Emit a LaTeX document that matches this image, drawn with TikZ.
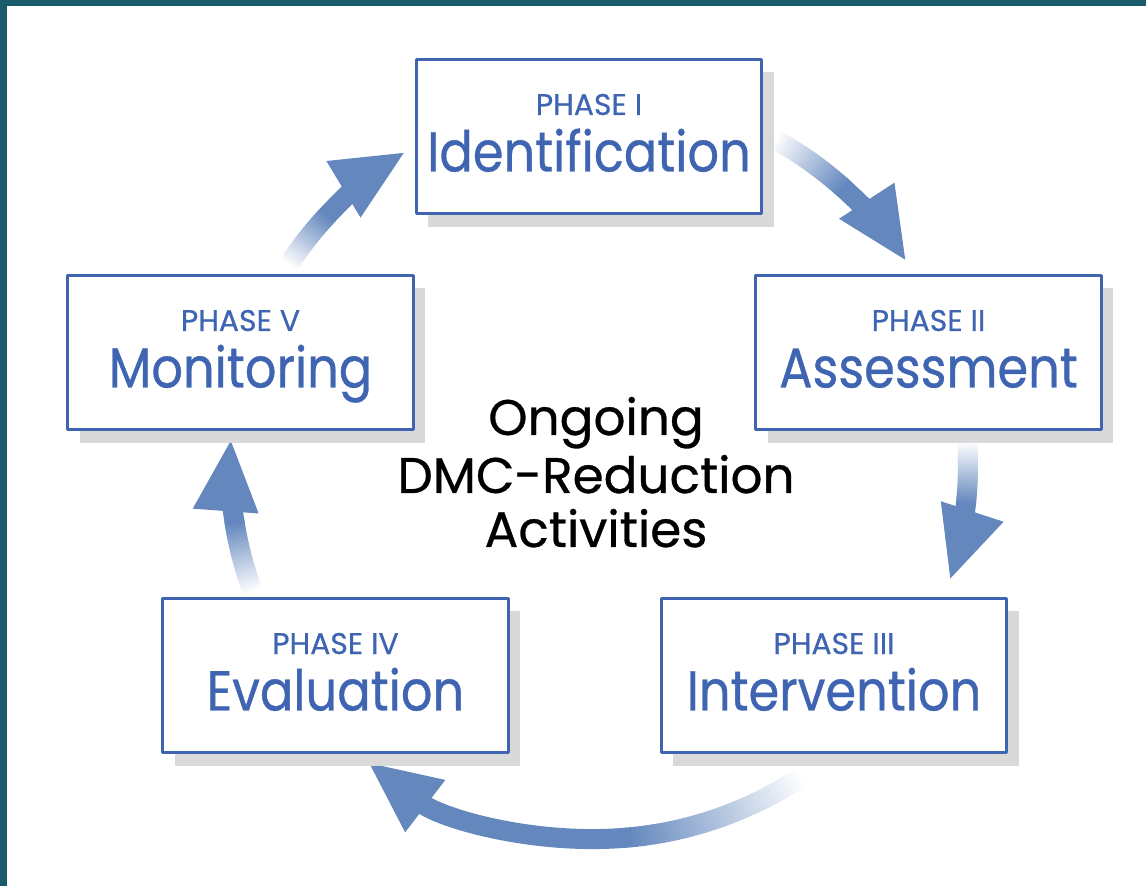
\documentclass[tikz,border=0pt]{standalone}
\usepackage{fontspec}
\setmainfont{Poppins}[FakeBold=0.6]
\newfontfamily\namefont[FakeStretch=0.88, FakeBold=0.6]{Poppins}
\usetikzlibrary{arrows.meta}
\definecolor{framecol}{RGB}{26,91,108}
\definecolor{boxblue}{RGB}{62,100,178}
\definecolor{arrowblue}{RGB}{100,136,190}
\definecolor{shadowgray}{RGB}{217,217,217}
\tikzset{
  phasebox/.style={draw=boxblue, line width=0.06cm, fill=white, minimum width=6.92cm, minimum height=3.1cm, inner sep=0pt},
  shadowbox/.style={fill=shadowgray, minimum width=6.92cm, minimum height=3.1cm, inner sep=0pt, xshift=0.24cm, yshift=-0.26cm},
  phasenum/.style={text=boxblue, font=\fontsize{17}{20}\selectfont, anchor=base},
  phasename/.style={text=boxblue, font=\namefont\fontsize{32}{36}\selectfont, anchor=base},
  centertext/.style={font=\fontsize{28.5}{32}\selectfont, anchor=base},
  shaft/.style={line width=0.4cm},
  bigtip/.style={-{Triangle[length=1.46cm, width=1.2cm]}}
}
\begin{document}
\begin{tikzpicture}[x=0.02cm, y=0.02cm, line join=round]
		%%%%%%%%%%%%%%%%%%%%%%%%%%%%%%%%%
		\coordinate (P1) at (589,749.5);
		\coordinate (P2) at (928.5,533.5);
		\coordinate (P3) at (834,210.5);
		\coordinate (P4) at (335.5,210.5);
		\coordinate (P5) at (240.5,533.5);
		\coordinate (O) at (595,421);
		\coordinate (T) at (596,451);
		%%%%%%%%%%%%%%%%%%%%%%%%%%%%%%%%%
		\useasboundingbox (0,0) rectangle (1146,886);
		\fill[white] (0,0) rectangle (1146,886);
		\fill[framecol] (0,0) rectangle (7,886);
		\fill[framecol] (0,880) rectangle (1146,886);
		%%%%%%%%%%%%%%%%%%%%%%%%%%%%%%%%%
		\foreach \s/\m/\e/\r in {146.7/137/121.1/366, 60.8/48/33.1/372, 3.4/-6/-18.1/373, -56.7/-85/-127.5/374, 200.2/189/175.8/365}{
			\foreach \k in {0,...,39}{
				\pgfmathsetmacro\pa{\s+(\m-\s)*\k/40}
				\pgfmathsetmacro\pb{\s+(\m-\s)*(\k+1.5)/40}
				\pgfmathtruncatemacro\pc{(\k+1)*100/40}
				\draw[shaft, arrowblue!\pc!white] (O) ++(\pa:\r) arc (\pa:\pb:\r);
			}
			\draw[shaft, arrowblue, bigtip] (O) ++(\m:\r) arc (\m:\e:\r);
		}
		%%%%%%%%%%%%%%%%%%%%%%%%%%%%%%%%%
		\foreach \p in {P1,P2,P3,P4,P5}
			\node[shadowbox] at (\p) {};
		\node[phasebox] (B1) at (P1) {};
		\node[phasebox] (B2) at (P2) {};
		\node[phasebox] (B3) at (P3) {};
		\node[phasebox] (B4) at (P4) {};
		\node[phasebox] (B5) at (P5) {};
		%%%%%%%%%%%%%%%%%%%%%%%%%%%%%%%%%
		\node[phasenum] (N1) at ([yshift=0.43cm]B1.center) {PHASE I};
		\node[phasename] (L1) at ([yshift=-0.7cm]B1.center) {Identification};
		\node[phasenum] (N2) at ([yshift=0.43cm]B2.center) {PHASE II};
		\node[phasename] (L2) at ([yshift=-0.7cm]B2.center) {Assessment};
		\node[phasenum] (N3) at ([yshift=0.43cm]B3.center) {PHASE III};
		\node[phasename] (L3) at ([yshift=-0.7cm]B3.center) {Intervention};
		\node[phasenum] (N4) at ([yshift=0.43cm]B4.center) {PHASE IV};
		\node[phasename] (L4) at ([yshift=-0.7cm]B4.center) {Evaluation};
		\node[phasenum] (N5) at ([yshift=0.43cm]B5.center) {PHASE V};
		\node[phasename] (L5) at ([yshift=-0.7cm]B5.center) {Monitoring};
		%%%%%%%%%%%%%%%%%%%%%%%%%%%%%%%%%
		\node[centertext] (C1) at (T) {Ongoing};
		\node[centertext] (C2) at ([yshift=-1.16cm]T) {DMC-Reduction};
		\node[centertext] (C3) at ([yshift=-2.24cm]T) {Activities};
		%%%%%%%%%%%%%%%%%%%%%%%%%%%%%%%%%
\end{tikzpicture}
\end{document}
